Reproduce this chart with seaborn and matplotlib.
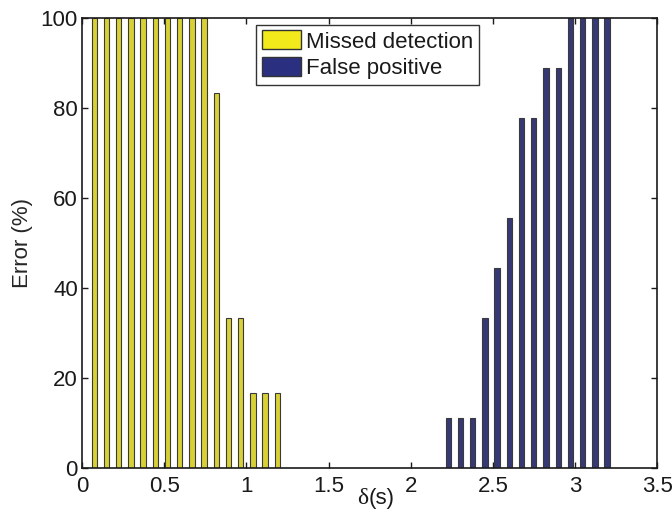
import numpy as np
import pandas as pd
import matplotlib
matplotlib.use("Agg")
import matplotlib.pyplot as plt
import seaborn as sns
from matplotlib.patches import Patch

step = 0.0743
missed_idx = list(range(1, 17))
missed_vals = [100, 100, 100, 100, 100, 100, 100, 100, 100, 100, 83.3, 33.3, 33.3, 16.7, 16.7, 16.7]
fp_idx = list(range(30, 44))
fp_vals = [11.1, 11.1, 11.1, 33.3, 44.4, 55.6, 77.8, 77.8, 88.9, 88.9, 100, 100, 100, 100]
series_names = ["Missed detection", "False positive"]
colors = ["#F2EA1A", "#2B2F80"]
xticks = [0, 0.5, 1, 1.5, 2, 2.5, 3, 3.5]
yticks = [0, 20, 40, 60, 80, 100]

df = pd.DataFrame({
    "x": [round(k * step, 4) for k in missed_idx] + [round(k * step, 4) for k in fp_idx],
    "err": missed_vals + fp_vals,
    "series": [series_names[0]] * len(missed_vals) + [series_names[1]] * len(fp_vals),
})

sns.set_style("white")
plt.rcParams["font.family"] = ["Liberation Sans", "DejaVu Sans"]

fig = plt.figure(figsize=(6.72, 5.15), dpi=100)
ax = fig.add_axes([0.122, 0.091, 0.856, 0.874])

sns.barplot(data=df, x="x", y="err", hue="series", native_scale=True, dodge=False,
            width=0.44, palette=colors, edgecolor="#3a3a3a", linewidth=0.8,
            legend=False, ax=ax, errorbar=None)

ax.set_xlim(0, 3.5)
ax.set_ylim(0, 100)
ax.set_xticks(xticks)
ax.set_xticklabels([f"{t:g}" for t in xticks])
ax.set_yticks(yticks)
ax.tick_params(direction="in", length=4, width=1, labelsize=16, colors="#1a1a1a",
               top=True, right=True, bottom=True, left=True)
ax.tick_params(axis="x", pad=6)
ax.tick_params(axis="y", pad=3)
for s in ax.spines.values():
    s.set_visible(True)
    s.set_color("#1a1a1a")
    s.set_linewidth(1.2)

ax.set_xlabel("")
ax.set_ylabel("Error (%)", fontsize=16)
ax.yaxis.set_label_coords(-0.085, 0.5)
fig.text(0.548, 0.021, "δ", fontsize=17, ha="right", va="baseline",
         family=["Liberation Serif", "DejaVu Serif"], color="#1a1a1a")
fig.text(0.548, 0.021, "(s)", fontsize=16, ha="left", va="baseline", color="#1a1a1a")

handles = [Patch(facecolor=colors[i], edgecolor="#333333", label=series_names[i]) for i in range(2)]
leg = ax.legend(handles=handles, loc="upper center", bbox_to_anchor=(0.497, 0.985),
                fontsize=16, frameon=True, fancybox=False, edgecolor="black",
                handlelength=1.75, handleheight=0.95, handletextpad=0.25,
                borderpad=0.25, labelspacing=0.2, borderaxespad=0)
leg.get_frame().set_linewidth(1.0)
for t in leg.get_texts():
    t.set_color("#1a1a1a")

fig.savefig("out.png", dpi=100)
